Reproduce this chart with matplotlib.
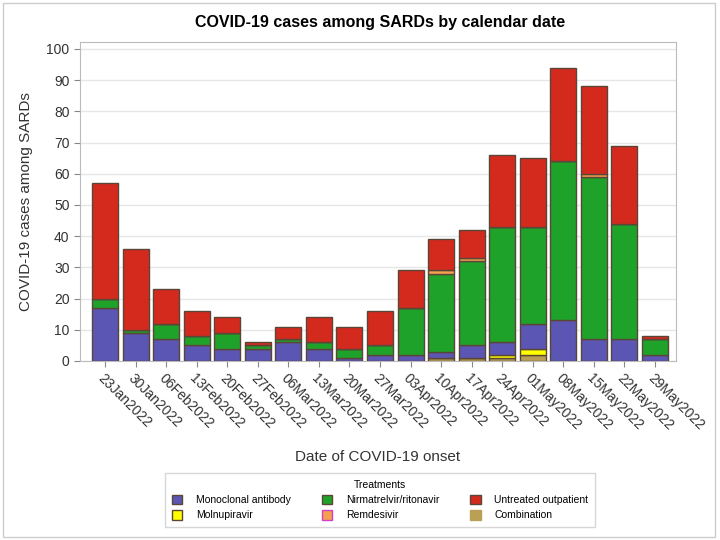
import matplotlib
matplotlib.use("Agg")
import matplotlib.pyplot as plt
from matplotlib.patches import Patch, Rectangle
import numpy as np

plt.rcParams['font.family'] = ['Liberation Sans', 'DejaVu Sans']

dates = ["23Jan2022", "30Jan2022", "06Feb2022", "13Feb2022", "20Feb2022", "27Feb2022",
         "06Mar2022", "13Mar2022", "20Mar2022", "27Mar2022", "03Apr2022", "10Apr2022",
         "17Apr2022", "24Apr2022", "01May2022", "08May2022", "15May2022", "22May2022",
         "29May2022"]

combination  = [0, 0, 0, 0, 0, 0, 0, 0, 0, 0, 0, 1, 1, 1, 2, 0, 0, 0, 0]
molnupiravir = [0, 0, 0, 0, 0, 0, 0, 0, 0, 0, 0, 0, 0, 1, 2, 0, 0, 0, 0]
monoclonal   = [17, 9, 7, 5, 4, 4, 6, 4, 1, 2, 2, 2, 4, 4, 8, 13, 7, 7, 2]
nirmatrelvir = [3, 1, 5, 3, 5, 1, 1, 2, 3, 3, 15, 25, 27, 37, 31, 51, 52, 37, 5]
remdesivir   = [0, 0, 0, 0, 0, 0, 0, 0, 0, 0, 0, 1, 1, 0, 0, 0, 1, 0, 0]
untreated    = [37, 26, 11, 8, 5, 1, 4, 8, 7, 11, 12, 10, 9, 23, 22, 30, 28, 25, 1]

series = [
    ("Combination", combination, "#B9A055"),
    ("Molnupiravir", molnupiravir, "#FFFF00"),
    ("Monoclonal antibody", monoclonal, "#5B56B4"),
    ("Nirmatrelvir/ritonavir", nirmatrelvir, "#1FA22A"),
    ("Remdesivir", remdesivir, "#F5A050"),
    ("Untreated outpatient", untreated, "#D42A1E"),
]

fig = plt.figure(figsize=(7.2, 5.4), dpi=100)
ax = fig.add_axes([80/720, 1 - 361/540, (676-80)/720, (361-42)/540])

x = np.arange(len(dates))
bottom = np.zeros(len(dates))
edge = "#5a4636"
for name, vals, col in series:
    v = np.array(vals, dtype=float)
    ax.bar(x, v, bottom=bottom, width=0.85, color=col, edgecolor=edge,
           linewidth=1.0, zorder=3)
    bottom += v

ax.set_xlim(-0.82, 18.69)
ax.set_ylim(0, 102.2)
ax.set_yticks(np.arange(0, 101, 10))
ax.yaxis.grid(True, color="#e6e6e6", linewidth=1, zorder=0)
ax.set_xticks(x)
ax.set_xticklabels(dates, rotation=-45, ha="left", va="top", rotation_mode="anchor",
                   fontsize=10, color="#333333")
ax.tick_params(axis="y", labelsize=10, labelcolor="#333333", color="#888888", length=4)
ax.tick_params(axis="x", color="#888888", length=4)
for s in ax.spines.values():
    s.set_color("#bbbbbb")

ax.set_ylabel("COVID-19 cases among SARDs", fontsize=11, color="#333333", labelpad=10)
ax.set_xlabel("Date of COVID-19 onset", fontsize=11, color="#333333", labelpad=6)
ax.xaxis.set_label_coords(0.5, -0.28)

fig.text(380/720, 1 - 22/540, "COVID-19 cases among SARDs by calendar date",
         ha="center", va="center", fontsize=11.5, fontweight="bold")

# legend in column-major order
leg_items = [
    ("Monoclonal antibody", "#5B56B4", edge),
    ("Molnupiravir", "#FFFF00", edge),
    ("Nirmatrelvir/ritonavir", "#1FA22A", edge),
    ("Remdesivir", "#F5A050", "#d040c0"),
    ("Untreated outpatient", "#D42A1E", edge),
    ("Combination", "#B9A055", "#B9A055"),
]
handles = [Patch(facecolor=c, edgecolor=e, linewidth=1) for _, c, e in leg_items]
labels = [n for n, _, _ in leg_items]
leg = fig.legend(handles, labels, ncol=3, title="Treatments", loc="center",
                 bbox_to_anchor=(380/720, 1 - 500/540), fontsize=7.5, title_fontsize=7.5,
                 frameon=True, edgecolor="#cccccc", fancybox=False,
                 handlelength=1.0, handleheight=1.0, columnspacing=3.0,
                 handletextpad=1.3, labelspacing=0.5, borderpad=0.6, borderaxespad=0)
leg.get_frame().set_linewidth(1)

fig.patches.append(Rectangle((3/720, 3/540), 1 - 8/720, 1 - 6/540, transform=fig.transFigure,
                             fill=False, edgecolor="#cccccc", linewidth=1))

fig.savefig("out.png", dpi=100)
